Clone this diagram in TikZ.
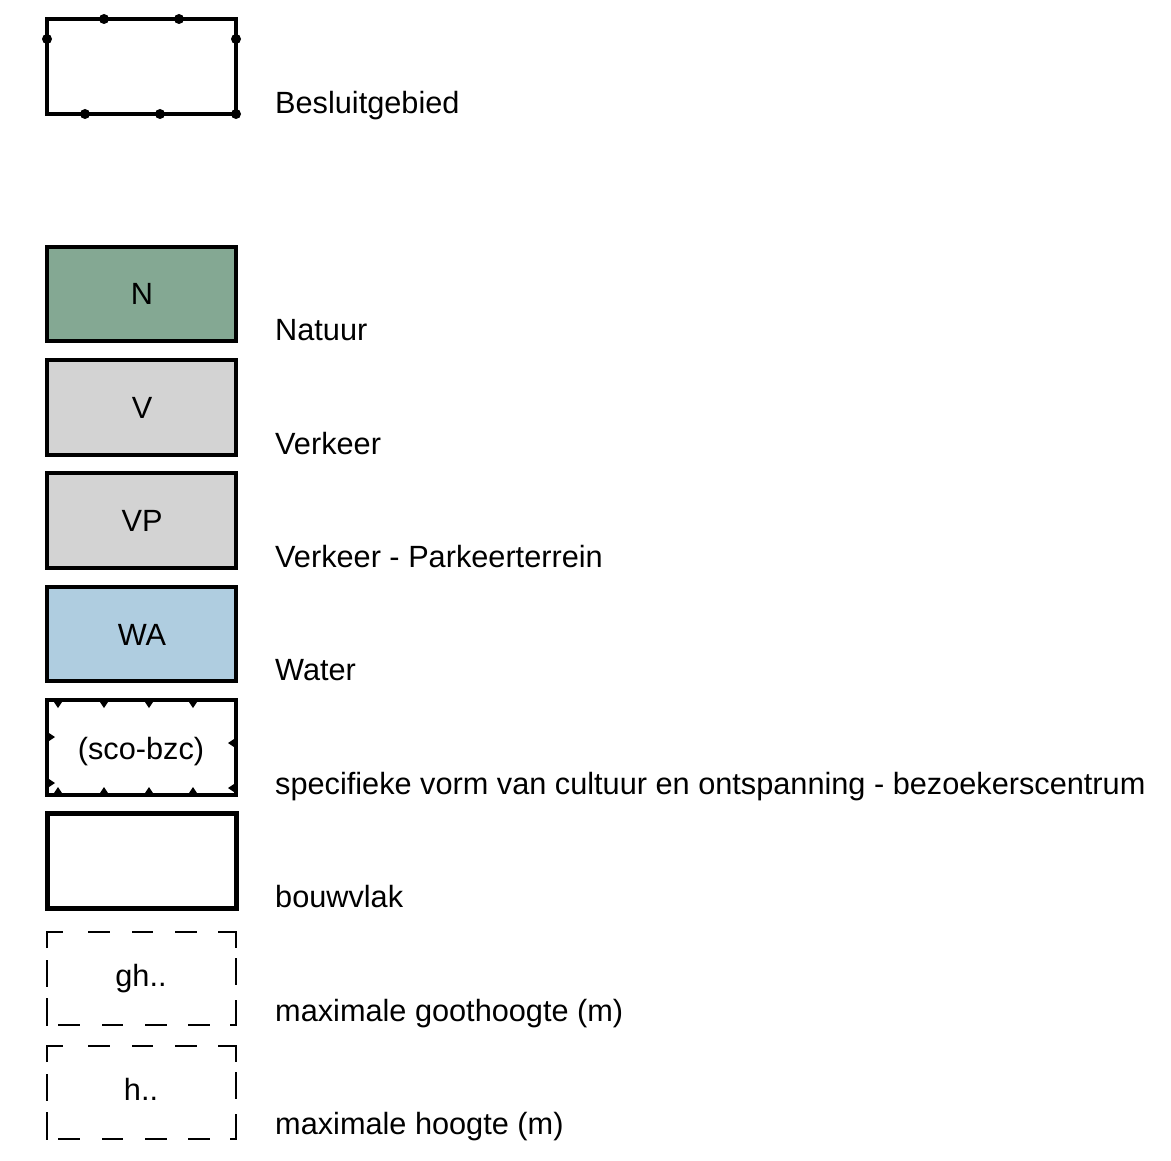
\documentclass[tikz,border=0pt]{standalone}
\usepackage{fontspec}
\setmainfont{Liberation Sans}
\definecolor{natuur}{RGB}{132,168,147}
\definecolor{verkeer}{RGB}{211,211,211}
\definecolor{water}{RGB}{175,205,224}
\begin{document}
\begin{tikzpicture}[x=1pt,y=-1pt,
  lbl/.style={anchor=base west,inner sep=0pt,font=\fontsize{30.7}{33}\selectfont},
  btxt/.style={anchor=base,inner sep=0pt,font=\fontsize{30.7}{33}\selectfont},
  legbox/.style={draw=black,line width=4pt},
  dot/.style={circle,fill=black,inner sep=0pt,minimum size=10pt},
  tick/.style={fill=black,draw=none},
  dsh/.style={line width=2.5pt}]
\useasboundingbox (0,0) rectangle (1171,1161);
% Besluitgebied
\draw[line width=3.5pt] (47,19) rectangle (236,114);
\foreach \p/\n in {{(104,19)}/d1,{(179,19)}/d2,{(47,39)}/d3,{(236,39)}/d4,{(85,114)}/d5,{(160,114)}/d6,{(236,114)}/d7}
  \node[dot] (\n) at \p {};
\node[lbl] (l1) at (275,114) {Besluitgebied};
% Natuur
\draw[legbox,fill=natuur] (47,247) rectangle (236,341);
\node[btxt] (tN) at (142,305) {N};
\node[lbl] (l2) at (275,341) {Natuur};
% Verkeer
\draw[legbox,fill=verkeer] (47,360) rectangle (236,455);
\node[btxt] (tV) at (142,418) {V};
\node[lbl] (l3) at (275,454) {Verkeer};
% VP
\draw[legbox,fill=verkeer] (47,473) rectangle (236,568);
\node[btxt] (tVP) at (142,531) {VP};
\node[lbl] (l4) at (275,567) {Verkeer - Parkeerterrein};
% WA
\draw[legbox,fill=water] (47,587) rectangle (236,681);
\node[btxt] (tWA) at (142,645) {WA};
\node[lbl] (l5) at (275,680) {Water};
% sco-bzc
\draw[legbox] (47,700) rectangle (236,795);
\foreach \x in {58,104,149,193}{
  \fill[tick] (\x-4,702) -- (\x+4,702) -- (\x,708) -- cycle;
  \fill[tick] (\x-4,793) -- (\x+4,793) -- (\x,787) -- cycle;
}
\foreach \y in {737,783}{
  \fill[tick] (49,\y-4) -- (49,\y+4) -- (55,\y) -- cycle;
}
\foreach \y in {743,788}{
  \fill[tick] (234,\y-4) -- (234,\y+4) -- (228,\y) -- cycle;
}
\node[btxt] (tS) at (141,759) {(sco-bzc)};
\node[lbl] (l6) at (275,794) {specifieke vorm van cultuur en ontspanning - bezoekerscentrum};
% bouwvlak
\draw[line width=5pt] (47,813) rectangle (236,908);
\node[lbl] (l7) at (275,907) {bouwvlak};
% dashed boxes
\foreach \o/\t/\n in {0/gh../tG,114/h../tH}{
  \begin{scope}[yshift=-\o pt]
  \draw[dsh] (47,948) -- (47,932) -- (63,932);
  \foreach \a/\b in {88/110,132/153,175/197}
    \draw[dsh] (\a,932) -- (\b,932);
  \draw[dsh] (218,932) -- (236,932) -- (236,948);
  \draw[dsh] (47,960) -- (47,987);
  \draw[dsh] (47,998) -- (47,1026);
  \draw[dsh] (236,958) -- (236,985);
  \draw[dsh] (236,1000) -- (236,1025) -- (230,1025);
  \foreach \a/\b in {58/80,102/123,145/167,188/210}
    \draw[dsh] (\a,1025) -- (\b,1025);
  \node[btxt] (\n) at (141,986) {\t};
  \end{scope}
}
\node[lbl] (l8) at (275,1021) {maximale goothoogte (m)};
\node[lbl] (l9) at (275,1134) {maximale hoogte (m)};
\end{tikzpicture}
\end{document}
